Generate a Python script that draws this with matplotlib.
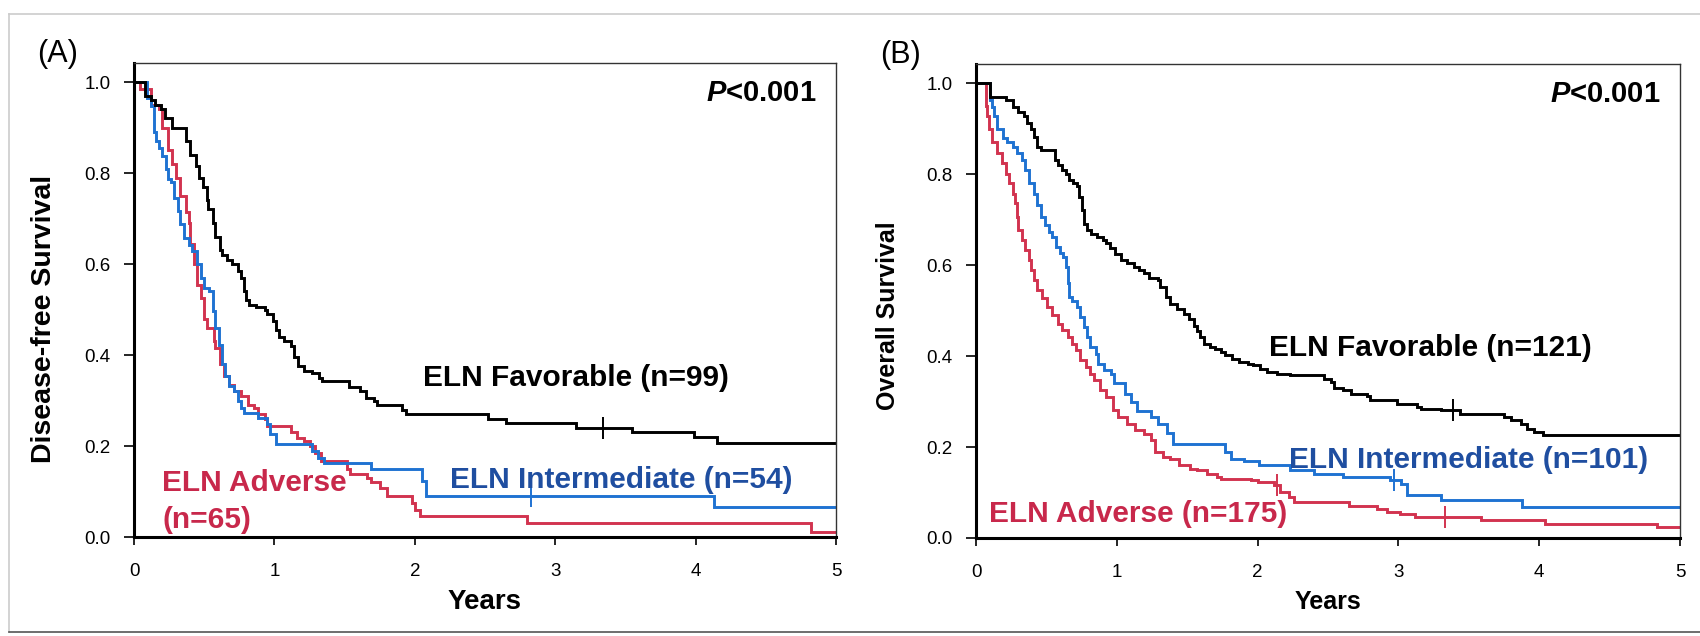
import matplotlib
matplotlib.use("Agg")
import matplotlib.pyplot as plt
from matplotlib.lines import Line2D

plt.rcParams['font.family'] = ['Liberation Sans', 'DejaVu Sans']
plt.rcParams['mathtext.fontset'] = 'custom'
plt.rcParams['mathtext.bfit'] = 'Liberation Sans:italic:bold'

# ---- panel A: disease-free survival (step times in years, survival after step)
a_fav_t = [0, 0.08, 0.12, 0.15, 0.19, 0.22, 0.27, 0.37, 0.40, 0.44, 0.46, 0.49, 0.52, 0.53,
           0.56, 0.58, 0.61, 0.63, 0.66, 0.70, 0.74, 0.76, 0.78, 0.80, 0.82, 0.87, 0.93, 0.95,
           0.99, 1.01, 1.03, 1.07, 1.12, 1.14, 1.17, 1.21, 1.27, 1.32, 1.34, 1.53, 1.61, 1.65,
           1.71, 1.73, 1.91, 1.94, 2.52, 2.65, 3.15, 3.55, 3.99, 4.15, 5.0]
a_fav_s = [1.0, 0.97, 0.96, 0.95, 0.94, 0.92, 0.90, 0.87, 0.84, 0.815, 0.79, 0.77, 0.74, 0.72,
           0.69, 0.66, 0.63, 0.62, 0.61, 0.60, 0.585, 0.57, 0.54, 0.52, 0.51, 0.505, 0.50, 0.49,
           0.475, 0.455, 0.44, 0.43, 0.42, 0.395, 0.375, 0.365, 0.36, 0.35, 0.343, 0.33, 0.32,
           0.305, 0.30, 0.29, 0.28, 0.27, 0.26, 0.25, 0.24, 0.23, 0.22, 0.207, 0.207]

a_int_t = [0, 0.095, 0.12, 0.14, 0.155, 0.18, 0.20, 0.225, 0.24, 0.26, 0.285, 0.31, 0.33, 0.356,
           0.39, 0.415, 0.45, 0.475, 0.50, 0.535, 0.56, 0.58, 0.605, 0.63, 0.65, 0.68, 0.71,
           0.74, 0.76, 0.78, 0.88, 0.95, 0.97, 1.01, 1.27, 1.31, 1.35, 1.69, 2.05, 2.08, 4.13, 5.0]
a_int_s = [1.0, 0.965, 0.947, 0.89, 0.87, 0.856, 0.837, 0.81, 0.786, 0.78, 0.746, 0.716, 0.687,
           0.658, 0.643, 0.629, 0.60, 0.57, 0.548, 0.54, 0.497, 0.46, 0.423, 0.38, 0.354, 0.332,
           0.32, 0.30, 0.284, 0.273, 0.262, 0.248, 0.226, 0.204, 0.19, 0.174, 0.163, 0.149,
           0.123, 0.09, 0.066, 0.066]

a_adv_t = [0, 0.04, 0.12, 0.18, 0.20, 0.24, 0.27, 0.30, 0.33, 0.37, 0.39, 0.40, 0.43, 0.45,
           0.475, 0.50, 0.52, 0.57, 0.58, 0.61, 0.64, 0.68, 0.71, 0.76, 0.81, 0.855, 0.88, 0.93,
           0.95, 1.12, 1.16, 1.21, 1.25, 1.29, 1.33, 1.52, 1.54, 1.66, 1.69, 1.75, 1.80, 1.98,
           2.00, 2.04, 2.80, 4.82, 5.0]
a_adv_s = [1.0, 0.985, 0.95, 0.94, 0.90, 0.85, 0.82, 0.79, 0.75, 0.715, 0.69, 0.645, 0.60,
           0.555, 0.525, 0.48, 0.46, 0.43, 0.415, 0.38, 0.355, 0.335, 0.32, 0.31, 0.29, 0.284,
           0.27, 0.26, 0.245, 0.23, 0.218, 0.21, 0.20, 0.185, 0.167, 0.15, 0.138, 0.13, 0.12,
           0.108, 0.09, 0.075, 0.06, 0.046, 0.03, 0.012, 0.012]

# ---- panel B: overall survival
b_fav_t = [0, 0.10, 0.21, 0.26, 0.30, 0.34, 0.36, 0.39, 0.41, 0.43, 0.46, 0.56, 0.58, 0.61,
           0.64, 0.66, 0.69, 0.72, 0.73, 0.75, 0.77, 0.79, 0.82, 0.86, 0.90, 0.92, 0.95, 0.99,
           1.03, 1.07, 1.12, 1.16, 1.19, 1.23, 1.29, 1.31, 1.35, 1.38, 1.43, 1.48, 1.51, 1.55,
           1.57, 1.59, 1.62, 1.66, 1.70, 1.74, 1.77, 1.82, 1.87, 1.93, 1.97, 2.02, 2.07, 2.14,
           2.23, 2.47, 2.52, 2.54, 2.61, 2.66, 2.78, 2.80, 2.99, 3.13, 3.16, 3.30, 3.44, 3.75,
           3.80, 3.87, 3.91, 3.96, 4.03, 5.0]
b_fav_s = [1.0, 0.97, 0.963, 0.948, 0.937, 0.927, 0.912, 0.90, 0.882, 0.86, 0.853, 0.83, 0.82,
           0.81, 0.80, 0.787, 0.78, 0.773, 0.75, 0.72, 0.69, 0.676, 0.669, 0.662, 0.655, 0.648,
           0.637, 0.625, 0.611, 0.604, 0.596, 0.589, 0.582, 0.571, 0.567, 0.552, 0.53, 0.515,
           0.504, 0.493, 0.482, 0.467, 0.456, 0.442, 0.427, 0.42, 0.416, 0.409, 0.402, 0.394,
           0.387, 0.383, 0.38, 0.372, 0.365, 0.361, 0.358, 0.35, 0.343, 0.33, 0.325, 0.317,
           0.312, 0.303, 0.295, 0.288, 0.284, 0.281, 0.273, 0.266, 0.259, 0.251, 0.24, 0.233,
           0.226, 0.226]

b_int_t = [0, 0.10, 0.115, 0.13, 0.15, 0.19, 0.22, 0.26, 0.29, 0.33, 0.35, 0.375, 0.41, 0.435,
           0.46, 0.49, 0.52, 0.54, 0.565, 0.60, 0.62, 0.64, 0.65, 0.66, 0.68, 0.72, 0.74, 0.77,
           0.79, 0.81, 0.85, 0.87, 0.91, 0.96, 0.98, 1.06, 1.10, 1.14, 1.24, 1.29, 1.36, 1.40,
           1.77, 1.81, 1.90, 2.01, 2.23, 2.40, 2.61, 2.94, 3.02, 3.06, 3.30, 3.88, 5.0]
b_int_s = [1.0, 0.963, 0.948, 0.927, 0.90, 0.88, 0.87, 0.86, 0.846, 0.83, 0.81, 0.78, 0.757,
           0.732, 0.706, 0.688, 0.673, 0.662, 0.64, 0.626, 0.618, 0.596, 0.56, 0.53, 0.52, 0.508,
           0.486, 0.464, 0.442, 0.42, 0.405, 0.383, 0.369, 0.361, 0.34, 0.317, 0.30, 0.28,
           0.265, 0.25, 0.23, 0.207, 0.189, 0.174, 0.17, 0.16, 0.149, 0.14, 0.134, 0.127, 0.119,
           0.094, 0.083, 0.068, 0.068]

b_adv_t = [0, 0.07, 0.08, 0.09, 0.115, 0.15, 0.185, 0.21, 0.235, 0.26, 0.28, 0.29, 0.30, 0.33,
           0.35, 0.375, 0.39, 0.41, 0.435, 0.47, 0.505, 0.54, 0.58, 0.61, 0.65, 0.68, 0.71, 0.74,
           0.78, 0.81, 0.84, 0.88, 0.92, 0.97, 1.01, 1.07, 1.13, 1.19, 1.24, 1.27, 1.33, 1.38,
           1.44, 1.52, 1.57, 1.64, 1.71, 1.74, 1.95, 2.00, 2.12, 2.16, 2.22, 2.26, 2.65, 2.85,
           2.92, 3.01, 3.12, 3.59, 4.04, 4.84, 5.0]
b_adv_s = [1.0, 0.95, 0.927, 0.90, 0.87, 0.846, 0.824, 0.80, 0.78, 0.757, 0.736, 0.706, 0.677,
           0.655, 0.633, 0.611, 0.589, 0.567, 0.545, 0.527, 0.508, 0.49, 0.471, 0.457, 0.442,
           0.427, 0.413, 0.391, 0.376, 0.361, 0.347, 0.325, 0.31, 0.281, 0.266, 0.251, 0.237,
           0.229, 0.215, 0.19, 0.178, 0.174, 0.16, 0.152, 0.149, 0.141, 0.134, 0.13, 0.127,
           0.123, 0.116, 0.101, 0.09, 0.079, 0.07, 0.064, 0.057, 0.053, 0.046, 0.039, 0.031,
           0.024, 0.024]

# censored observations (time, survival)
a_cens = {'fav': ([3.34], [0.24]), 'int': ([2.83], [0.09])}
b_cens = {'fav': ([3.39], [0.281]), 'int': ([2.97], [0.127]), 'adv': ([2.14, 3.33], [0.116, 0.046])}

yticks = [0.0, 0.2, 0.4, 0.6, 0.8, 1.0]
xticks = [0, 1, 2, 3, 4, 5]

BLACK = 'black'
RED_LINE = '#d2334f'
BLUE_LINE = '#1f72d2'
RED_TXT = '#c8284b'
BLUE_TXT = '#1f4ea0'

W, H = 1700, 636
fig = plt.figure(figsize=(W / 100, H / 100), dpi=100)
fig.patch.set_facecolor('white')

axA = fig.add_axes([134 / W, 1 - 537 / H, 702 / W, 474 / H])
axB = fig.add_axes([976 / W, 1 - 538 / H, 704 / W, 474 / H])


def style(ax):
    ax.set_xlim(0, 5)
    ax.set_ylim(0, 1.042)
    ax.set_xticks(xticks)
    ax.set_xticklabels([str(v) for v in xticks])
    ax.set_yticks(yticks)
    ax.set_yticklabels(['%.1f' % v for v in yticks])
    ax.tick_params(axis='x', direction='out', length=6, width=1.2, pad=13, labelsize=13.5)
    ax.tick_params(axis='y', direction='out', length=7, width=1.2, pad=10, labelsize=13.5)
    for s in ['left', 'bottom']:
        ax.spines[s].set_linewidth(2.2)
        ax.spines[s].set_color('black')
    for s in ['top', 'right']:
        ax.spines[s].set_linewidth(1.0)
        ax.spines[s].set_color('#333333')


def curve(ax, t, s, color):
    ax.plot(t, s, drawstyle='steps-post', color=color, lw=2.1, solid_joinstyle='miter')


PTXT = r'$\mathbfit{P}$<0.001'

# panel A
curve(axA, a_adv_t, a_adv_s, RED_LINE)
curve(axA, a_int_t, a_int_s, BLUE_LINE)
curve(axA, a_fav_t, a_fav_s, BLACK)
axA.plot(*a_cens['fav'], ls='none', marker='|', ms=16, mew=1.4, color=BLACK)
axA.plot(*a_cens['int'], ls='none', marker='|', ms=16, mew=1.4, color=BLUE_LINE)
style(axA)
axA.set_xlabel('Years', fontsize=20, fontweight='bold', labelpad=6)
axA.set_ylabel('Disease-free Survival', fontsize=20.5, fontweight='bold')
axA.yaxis.set_label_coords(-0.11, 0.46)
axA.text(4.86, 0.975, PTXT, ha='right', va='center', fontsize=21, fontweight='bold')
axA.text(2.06, 0.35, 'ELN Favorable (n=99)', fontsize=21.5, fontweight='bold', color=BLACK, va='center')
axA.text(2.25, 0.125, 'ELN Intermediate (n=54)', fontsize=21.5, fontweight='bold', color=BLUE_TXT, va='center')
axA.text(0.2, 0.118, 'ELN Adverse', fontsize=21.5, fontweight='bold', color=RED_TXT, va='center')
axA.text(0.2, 0.038, '(n=65)', fontsize=21.5, fontweight='bold', color=RED_TXT, va='center')

# panel B
curve(axB, b_adv_t, b_adv_s, RED_LINE)
curve(axB, b_int_t, b_int_s, BLUE_LINE)
curve(axB, b_fav_t, b_fav_s, BLACK)
axB.plot(*b_cens['fav'], ls='none', marker='|', ms=16, mew=1.4, color=BLACK)
axB.plot(*b_cens['int'], ls='none', marker='|', ms=16, mew=1.4, color=BLUE_LINE)
axB.plot(*b_cens['adv'], ls='none', marker='|', ms=16, mew=1.4, color=RED_LINE)
style(axB)
axB.set_xlabel('Years', fontsize=18, fontweight='bold', labelpad=6)
axB.set_ylabel('Overall Survival', fontsize=18, fontweight='bold')
axB.yaxis.set_label_coords(-0.108, 0.47)
axB.text(4.86, 0.975, PTXT, ha='right', va='center', fontsize=21, fontweight='bold')
axB.text(2.08, 0.417, 'ELN Favorable (n=121)', fontsize=21.5, fontweight='bold', color=BLACK, va='center')
axB.text(2.22, 0.172, 'ELN Intermediate (n=101)', fontsize=21.5, fontweight='bold', color=BLUE_TXT, va='center')
axB.text(0.09, 0.052, 'ELN Adverse (n=175)', fontsize=21.5, fontweight='bold', color=RED_TXT, va='center')

# panel letters
fig.text(37 / W, 1 - 54 / H, '(A)', fontsize=22, va='center', ha='left')
fig.text(880 / W, 1 - 55 / H, '(B)', fontsize=22, va='center', ha='left')

# faint scan frame
fig.add_artist(Line2D([9 / W, 1.0], [1 - 14 / H, 1 - 14 / H], transform=fig.transFigure, color='#cccccc', lw=1.2))
fig.add_artist(Line2D([9 / W, 9 / W], [1 - 14 / H, 1 - 632 / H], transform=fig.transFigure, color='#cccccc', lw=1.2))
fig.add_artist(Line2D([9 / W, 1.0], [1 - 632 / H, 1 - 632 / H], transform=fig.transFigure, color='#555555', lw=1.2))

fig.savefig('out.png', dpi=100, facecolor='white')
